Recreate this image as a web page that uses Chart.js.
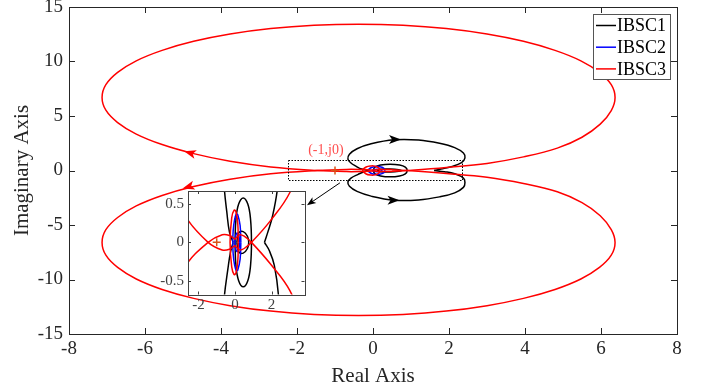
<!DOCTYPE html>
<html>
<head>
<meta charset="utf-8">
<script src="https://cdn.jsdelivr.net/npm/chart.js@4.4.0/dist/chart.umd.min.js"></script>
<style>
  html, body { margin: 0; padding: 0; background: #fff; }
  #wrap { position: relative; width: 709px; height: 389px; }
  #main { position: absolute; left: 0; top: 0; }
  #inset { position: absolute; left: 140px; top: 185px; }
</style>
</head>
<body>
<div id="wrap">
  <canvas id="main" width="709" height="389"></canvas>
  <canvas id="inset" width="170" height="135"></canvas>
</div>
<script>
// ---- data ----
// IBSC3 (red): upper loop, lower loop, small loop round the origin
const ibsc3UpX = [0, -0.3, -0.7, -1.47, -2.69, -3.76, -4.72, -5.55, -6.23, -6.72, -7.03, -7.13, -7.03, -6.72, -6.23, -5.55, -4.72, -3.76, -2.69, -1.55, -0.38, 0.79, 1.93, 3.0, 3.96, 4.79, 5.47, 5.96, 6.27, 6.37, 6.27, 5.98, 5.5, 4.85, 3.96, 3.0, 1.93, 0.9, 0.5, 0.27, 0.1, 0];
const ibsc3UpY = [-0.04, -0.09, -0.1, 0, 0.33, 0.85, 1.55, 2.38, 3.34, 4.4, 5.53, 6.7, 7.87, 9.0, 10.06, 11.02, 11.85, 12.52, 13.02, 13.32, 13.42, 13.32, 13.02, 12.52, 11.85, 11.02, 10.06, 9.0, 7.87, 6.7, 5.5, 4.25, 3.05, 2.05, 1.25, 0.65, 0.28, 0, -0.08, -0.1, -0.07, -0.04];
const ibsc3LowX = [0, -0.3, -0.7, -1.47, -2.69, -3.76, -4.72, -5.55, -6.23, -6.72, -7.03, -7.13, -7.03, -6.72, -6.23, -5.55, -4.72, -3.76, -2.69, -1.55, -0.38, 0.79, 1.93, 3.0, 3.96, 4.79, 5.47, 5.96, 6.27, 6.37, 6.27, 5.98, 5.5, 4.85, 3.96, 3.0, 1.93, 0.9, 0.5, 0.27, 0.1, 0];
const ibsc3LowY = [0.04, 0.09, 0.1, 0, -0.3, -0.8, -1.47, -2.29, -3.25, -4.31, -5.43, -6.6, -7.77, -8.89, -9.95, -10.91, -11.73, -12.4, -12.9, -13.2, -13.3, -13.2, -12.9, -12.4, -11.73, -10.91, -9.95, -8.89, -7.77, -6.6, -5.43, -4.15, -2.95, -1.95, -1.2, -0.63, -0.28, 0, 0.08, 0.1, 0.07, 0.04];
const ibsc3LoopX = [0.18, 0.15, 0.05, -0.05, -0.18, -0.27, -0.18, -0.05, 0.05, 0.15, 0.18];
const ibsc3LoopY = [0, 0.25, 0.4, 0.42, 0.32, 0, -0.32, -0.42, -0.4, -0.25, 0];

// IBSC2 (blue)
const ibsc2OuterX = [0.32, 0.28, 0.15, 0.08, -0.02, -0.1, -0.12, -0.1, -0.02, 0.08, 0.15, 0.28, 0.32];
const ibsc2OuterY = [0, 0.22, 0.36, 0.37, 0.3, 0.15, 0, -0.15, -0.3, -0.37, -0.36, -0.22, 0];
const ibsc2InnerX = [0.25, 0.2, 0.1, 0.02, 0, 0.02, 0.1, 0.2, 0.25];
const ibsc2InnerY = [0, 0.1, 0.12, 0.06, 0, -0.06, -0.12, -0.1, 0];

// IBSC1 (black)
const ibsc1UpX = [-0.1, -0.3, -0.45, -0.58, -0.66, -0.62, -0.42, -0.05, 0.55, 1.2, 1.75, 2.15, 2.38, 2.42, 2.33, 2.06, 1.79, 1.61];
const ibsc1UpY = [0, 0.13, 0.4, 0.69, 1.05, 1.5, 2.0, 2.45, 2.82, 2.8, 2.5, 2.1, 1.6, 1.15, 0.72, 0.35, 0.13, 0];
const ibsc1LowX = [-0.1, -0.25, -0.39, -0.58, -0.66, -0.62, -0.42, -0.05, 0.55, 1.2, 1.75, 2.15, 2.38, 2.42, 2.38, 2.15, 1.88, 1.61];
const ibsc1LowY = [0, -0.13, -0.35, -0.7, -1.05, -1.45, -1.92, -2.35, -2.72, -2.7, -2.42, -2.05, -1.55, -1.1, -0.7, -0.3, -0.11, 0];
const ibsc1MidX = [0, 0.05, 0.2, 0.45, 0.7, 0.85, 0.9, 0.85, 0.7, 0.45, 0.2, 0.05, 0];
const ibsc1MidY = [0, 0.3, 0.5, 0.58, 0.5, 0.3, 0, -0.3, -0.5, -0.58, -0.5, -0.3, 0];
const ibsc1SmallX = [0.1, 0.2, 0.45, 0.68, 0.75, 0.68, 0.45, 0.2, 0.1];
const ibsc1SmallY = [0, 0.12, 0.14, 0.08, 0, -0.08, -0.14, -0.12, 0];

// critical point (-1, j0)
const critX = [-1];
const critY = [0];

// direction arrows on the curves (position + heading in degrees, screen frame)
const arrowX = [-4.82, -4.86, 0.58, 0.54];
const arrowY = [1.62, -1.5, 2.84, -2.73];
const arrowAng = [196, 164, 0, 0];
const arrowCol = ['#ff0000', '#ff0000', '#000000', '#000000'];

// zoom box and the pointer to the inset
const zoomBoxX = [-2.23, 2.35];
const zoomBoxY = [-0.92, 0.94];
const pointerX = [-0.87, -1.64];
const pointerY = [-1.13, -2.96];

const seriesNames = ['IBSC1', 'IBSC2', 'IBSC3'];
const seriesColors = ['#000000', '#0000ff', '#ff0000'];

const xTicksMain = [-8, -6, -4, -2, 0, 2, 4, 6, 8];
const yTicksMain = [-15, -10, -5, 0, 5, 10, 15];
const xTicksInset = [-2, 0, 2];
const yTicksInset = [-0.5, 0, 0.5];

// ---- helpers ----
const serif = "'Liberation Serif', 'Times New Roman', serif";
const axisColor = '#262626';

function pts(xs, ys) {
  return xs.map((x, i) => ({ x: x, y: ys[i] }));
}

function curve(idx, xs, ys) {
  return {
    label: seriesNames[idx],
    data: pts(xs, ys),
    showLine: true,
    borderColor: seriesColors[idx],
    backgroundColor: seriesColors[idx],
    borderWidth: 1.5,
    pointRadius: 0,
    tension: 0.4,
    fill: false,
    order: 3 - idx
  };
}

function allDatasets() {
  return [
    curve(0, ibsc1UpX, ibsc1UpY),
    curve(0, ibsc1LowX, ibsc1LowY),
    curve(0, ibsc1MidX, ibsc1MidY),
    curve(0, ibsc1SmallX, ibsc1SmallY),
    curve(1, ibsc2OuterX, ibsc2OuterY),
    curve(1, ibsc2InnerX, ibsc2InnerY),
    curve(2, ibsc3UpX, ibsc3UpY),
    curve(2, ibsc3LowX, ibsc3LowY),
    curve(2, ibsc3LoopX, ibsc3LoopY),
    {
      label: 'crit',
      data: pts(critX, critY),
      showLine: false,
      pointStyle: 'cross',
      pointRadius: 4,
      borderColor: '#d95319',
      borderWidth: 1.5,
      order: 0
    }
  ];
}

function fixedTicks(list) {
  return function(scale) {
    scale.ticks = list.map(v => ({ value: v }));
  };
}

// white plot area, box and inward ticks on all four sides
const framePlugin = {
  id: 'frame',
  beforeDraw(chart) {
    const a = chart.chartArea, ctx = chart.ctx;
    ctx.save();
    ctx.fillStyle = '#fff';
    ctx.fillRect(a.left, a.top, a.right - a.left, a.bottom - a.top);
    ctx.restore();
  },
  afterDatasetsDraw(chart, args, opts) {
    const a = chart.chartArea, ctx = chart.ctx;
    const tl = opts.tick;
    const sx = chart.scales.x, sy = chart.scales.y;
    ctx.save();
    ctx.strokeStyle = opts.color;
    ctx.lineWidth = 1;
    ctx.beginPath();
    sx.ticks.forEach(t => {
      const p = Math.round(sx.getPixelForValue(t.value)) + 0.5;
      ctx.moveTo(p, a.bottom); ctx.lineTo(p, a.bottom - tl);
      ctx.moveTo(p, a.top); ctx.lineTo(p, a.top + tl);
    });
    sy.ticks.forEach(t => {
      const p = Math.round(sy.getPixelForValue(t.value)) + 0.5;
      ctx.moveTo(a.left, p); ctx.lineTo(a.left + tl, p);
      ctx.moveTo(a.right, p); ctx.lineTo(a.right - tl, p);
    });
    ctx.stroke();
    ctx.strokeRect(Math.round(a.left) + 0.5, Math.round(a.top) + 0.5,
      Math.round(a.right - a.left), Math.round(a.bottom - a.top));
    ctx.restore();
  }
};

function arrowHead(ctx, x, y, deg, len, wid, color) {
  ctx.save();
  ctx.translate(x, y);
  ctx.rotate(deg * Math.PI / 180);
  ctx.fillStyle = color;
  ctx.beginPath();
  ctx.moveTo(len / 2, 0);
  ctx.lineTo(-len / 2, -wid / 2);
  ctx.lineTo(-len / 4, 0);
  ctx.lineTo(-len / 2, wid / 2);
  ctx.closePath();
  ctx.fill();
  ctx.restore();
}

// annotations of the main axes: arrows, zoom box, label, legend
const notesPlugin = {
  id: 'notes',
  afterDraw(chart) {
    const ctx = chart.ctx, a = chart.chartArea;
    const sx = chart.scales.x, sy = chart.scales.y;
    ctx.save();

    arrowX.forEach((v, i) => {
      arrowHead(ctx, sx.getPixelForValue(v), sy.getPixelForValue(arrowY[i]), arrowAng[i], 12, 9, arrowCol[i]);
    });

    // dotted zoom box
    ctx.strokeStyle = '#000';
    ctx.lineWidth = 1;
    ctx.setLineDash([1.5, 1.5]);
    const bx0 = sx.getPixelForValue(zoomBoxX[0]), bx1 = sx.getPixelForValue(zoomBoxX[1]);
    const by0 = sy.getPixelForValue(zoomBoxY[1]), by1 = sy.getPixelForValue(zoomBoxY[0]);
    ctx.strokeRect(Math.round(bx0) + 0.5, Math.round(by0) + 0.5, Math.round(bx1 - bx0), Math.round(by1 - by0));
    ctx.setLineDash([]);

    // pointer to the inset
    const p0x = sx.getPixelForValue(pointerX[0]), p0y = sy.getPixelForValue(pointerY[0]);
    const p1x = sx.getPixelForValue(pointerX[1]), p1y = sy.getPixelForValue(pointerY[1]);
    ctx.beginPath();
    ctx.moveTo(p0x, p0y);
    ctx.lineTo(p1x, p1y);
    ctx.stroke();
    arrowHead(ctx, p1x, p1y, Math.atan2(p1y - p0y, p1x - p0x) * 180 / Math.PI, 9, 7, '#000');

    // label of the critical point
    ctx.fillStyle = '#ff4d4d';
    ctx.font = '14px ' + serif;
    ctx.textAlign = 'center';
    ctx.textBaseline = 'middle';
    ctx.fillText('(-1,j0)', sx.getPixelForValue(-1.24), sy.getPixelForValue(1.83));

    // legend, top right inside the axes
    const lw = 77, lh = 65;
    const lx = a.right - 7 - lw, ly = a.top + 7;
    ctx.fillStyle = '#fff';
    ctx.fillRect(lx, ly, lw, lh);
    ctx.strokeStyle = '#555';
    ctx.strokeRect(Math.round(lx) + 0.5, Math.round(ly) + 0.5, lw, lh);
    ctx.font = '18px ' + serif;
    ctx.textAlign = 'left';
    ctx.textBaseline = 'middle';
    seriesNames.forEach((name, i) => {
      const yy = ly + 11.5 + i * 21.7;
      ctx.strokeStyle = seriesColors[i];
      ctx.lineWidth = 1.5;
      ctx.beginPath();
      ctx.moveTo(lx + 3, yy);
      ctx.lineTo(lx + 23, yy);
      ctx.stroke();
      ctx.fillStyle = '#000';
      ctx.fillText(name, lx + 24, yy + 1);
    });
    ctx.restore();
  }
};

// ---- main chart ----
new Chart(document.getElementById('main').getContext('2d'), {
  type: 'scatter',
  data: { datasets: allDatasets() },
  options: {
    responsive: false,
    animation: false,
    events: [],
    layout: { padding: { top: 7, right: 32, left: 0, bottom: 0 } },
    plugins: {
      legend: { display: false },
      tooltip: { enabled: false },
      frame: { tick: 6, color: axisColor }
    },
    scales: {
      x: {
        type: 'linear', min: -8, max: 8,
        afterBuildTicks: fixedTicks(xTicksMain),
        afterFit(scale) { scale.height = 55; scale.paddingLeft = 0; scale.paddingRight = 0; },
        grid: { display: false, drawTicks: false },
        border: { display: false },
        ticks: { color: axisColor, font: { family: serif, size: 19 }, padding: 4, maxRotation: 0 },
        title: { display: true, text: 'Real Axis', color: axisColor, font: { family: serif, size: 21 }, padding: 0 }
      },
      y: {
        type: 'linear', min: -15, max: 15,
        afterBuildTicks: fixedTicks(yTicksMain),
        afterFit(scale) { scale.width = 69; scale.paddingTop = 0; scale.paddingBottom = 0; },
        grid: { display: false, drawTicks: false },
        border: { display: false },
        ticks: { color: axisColor, font: { family: serif, size: 19 }, padding: 6 },
        title: { display: true, text: 'Imaginary Axis', color: axisColor, font: { family: serif, size: 21 }, padding: 10 }
      }
    }
  },
  plugins: [framePlugin, notesPlugin]
});

// ---- inset (zoom on the origin) ----
new Chart(document.getElementById('inset').getContext('2d'), {
  type: 'scatter',
  data: { datasets: allDatasets() },
  options: {
    responsive: false,
    animation: false,
    events: [],
    layout: { padding: { top: 6, right: 4, left: 0, bottom: 0 } },
    plugins: {
      legend: { display: false },
      tooltip: { enabled: false },
      frame: { tick: 3, color: '#404040' }
    },
    scales: {
      x: {
        type: 'linear', min: -2.57, max: 3.8,
        afterBuildTicks: fixedTicks(xTicksInset),
        afterFit(scale) { scale.height = 25.5; scale.paddingLeft = 0; scale.paddingRight = 0; },
        grid: { display: false, drawTicks: false },
        border: { display: false },
        ticks: { color: '#404040', font: { family: serif, size: 15 }, padding: 2, maxRotation: 0 }
      },
      y: {
        type: 'linear', min: -0.68, max: 0.67,
        afterBuildTicks: fixedTicks(yTicksInset),
        afterFit(scale) { scale.width = 48; scale.paddingTop = 0; scale.paddingBottom = 0; },
        grid: { display: false, drawTicks: false },
        border: { display: false },
        ticks: { color: '#404040', font: { family: serif, size: 15 }, padding: 4, callback: v => String(v) }
      }
    }
  },
  plugins: [framePlugin]
});
</script>
</body>
</html>
